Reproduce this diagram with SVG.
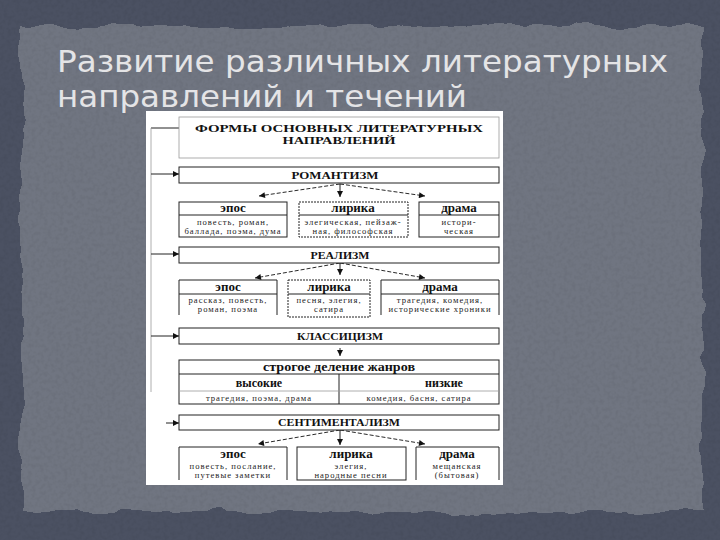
<svg xmlns="http://www.w3.org/2000/svg" width="720" height="540" viewBox="0 0 720 540">
<defs>
<filter id="torn" x="-5%" y="-5%" width="110%" height="110%">
<feTurbulence type="fractalNoise" baseFrequency="0.03" numOctaves="3" seed="3" result="n"/>
<feDisplacementMap in="SourceGraphic" in2="n" scale="14" xChannelSelector="R" yChannelSelector="G"/>
</filter>
<filter id="grain" x="0" y="0" width="100%" height="100%">
<feTurbulence type="fractalNoise" baseFrequency="0.25" numOctaves="3" seed="7" result="t"/>
<feColorMatrix in="t" type="matrix" values="0 0 0 0 0  0 0 0 0 0  0 0 0 0 0  0 0 0 -1.0 0.6"/>
</filter>
<marker id="ah" viewBox="0 0 10 10" refX="10" refY="5" markerWidth="7" markerHeight="6" orient="auto" markerUnits="userSpaceOnUse">
<path d="M0,0 L10,5 L0,10 z" fill="#111"/>
</marker>
<style>
.hd{font-family:"Liberation Serif",serif;font-weight:bold;font-size:13px;fill:#111;text-anchor:middle}
.cap{font-size:11px}
.ttl{font-size:10.5px}
.sub{font-size:12px}
.tt{font-family:"Liberation Serif",serif;font-size:8.6px;letter-spacing:1px;fill:#222;text-anchor:middle}
.bx{fill:#fff;stroke:#222;stroke-width:1}
.fb{fill:none;stroke:#999;stroke-width:0.8}
.dl{fill:none;stroke:#111;stroke-width:0.9;stroke-dasharray:4 2}
.sl{fill:none;stroke:#222;stroke-width:1}
.title{font-family:"DejaVu Sans","Open Sans",sans-serif;font-size:31px;fill:#e4e4e6}
</style>
</defs>
<rect x="0" y="0" width="720" height="540" fill="#4b5162"/>
<rect x="22" y="26" width="680" height="486" fill="#6f7481" filter="url(#torn)"/>
<rect x="0" y="0" width="720" height="540" fill="#000" opacity="0.1" filter="url(#grain)"/>
<text class="title" x="57" y="72" textLength="611" lengthAdjust="spacingAndGlyphs">Развитие различных литературных</text>
<text class="title" x="57" y="107" textLength="410" lengthAdjust="spacingAndGlyphs">направлений и течений</text>
<rect x="146" y="111" width="357" height="374" fill="#fff"/>
<g id="connectors">
<path class="sl" d="M151,128 H179"/>
<path class="fb" d="M151,128 V392"/>
<path class="sl" d="M151,174 H179" marker-end="url(#ah)"/>
<path class="sl" d="M151,254 H179" marker-end="url(#ah)"/>
<path class="sl" d="M151,336 H179" marker-end="url(#ah)"/>
<path class="sl" d="M166,423 H179" marker-end="url(#ah)"/>
<path class="dl" d="M340,184 L259,196" marker-end="url(#ah)"/>
<path class="sl" d="M340,184 V197" marker-end="url(#ah)"/>
<path class="dl" d="M340,184 L425,196" marker-end="url(#ah)"/>
<path class="dl" d="M340,263 L255,278" marker-end="url(#ah)"/>
<path class="sl" d="M340,263 V275" marker-end="url(#ah)"/>
<path class="dl" d="M340,263 L425,278" marker-end="url(#ah)"/>
<path class="sl" d="M340,348 V356" marker-end="url(#ah)"/>
<path class="dl" d="M340,430 L258,444" marker-end="url(#ah)"/>
<path class="sl" d="M340,430 V445" marker-end="url(#ah)"/>
<path class="dl" d="M340,430 L425,444" marker-end="url(#ah)"/>
</g>
<g id="forms">
<rect class="fb" x="179" y="117" width="320" height="41"/>
<text class="hd ttl" x="339" y="132" textLength="288" lengthAdjust="spacingAndGlyphs">ФОРМЫ ОСНОВНЫХ ЛИТЕРАТУРНЫХ</text>
<text class="hd ttl" x="339" y="144" textLength="113" lengthAdjust="spacingAndGlyphs">НАПРАВЛЕНИЙ</text>
</g>
<g id="romantism">
<rect class="bx" x="179" y="167" width="320" height="16"/>
<text class="hd cap" x="335" y="179" textLength="87" lengthAdjust="spacingAndGlyphs">РОМАНТИЗМ</text>
</g>
<g id="rom-epos">
<rect class="bx" x="179" y="202" width="108" height="35"/>
<line class="sl" x1="179" y1="215" x2="287" y2="215"/>
<text class="hd" x="233" y="212">эпос</text>
<text class="tt" x="233" y="225">повесть, роман,</text>
<text class="tt" x="233" y="234">баллада, поэма, дума</text>
</g>
<g id="rom-lyric">
<rect class="bx" x="299" y="202" width="109" height="35" stroke-dasharray="2 1"/>
<line class="sl" x1="299" y1="215" x2="408" y2="215"/>
<text class="hd" x="353" y="212">лирика</text>
<text class="tt" x="353" y="225">элегическая, пейзаж-</text>
<text class="tt" x="353" y="234">ная, философская</text>
</g>
<g id="rom-drama">
<rect class="bx" x="419" y="202" width="80" height="35"/>
<line class="sl" x1="419" y1="215" x2="499" y2="215"/>
<text class="hd" x="459" y="212">драма</text>
<text class="tt" x="459" y="225">истори-</text>
<text class="tt" x="459" y="234">ческая</text>
</g>
<g id="realism">
<rect class="bx" x="179" y="247" width="320" height="16"/>
<text class="hd cap" x="340" y="259" textLength="59" lengthAdjust="spacingAndGlyphs">РЕАЛИЗМ</text>
</g>
<g id="real-epos">
<path class="sl" d="M179,315 V280 H277 V315"/>
<line class="sl" x1="179" y1="294" x2="277" y2="294"/>
<text class="hd" x="228" y="291">эпос</text>
<text class="tt" x="228" y="303">рассказ, повесть,</text>
<text class="tt" x="228" y="312">роман, поэма</text>
</g>
<g id="real-lyric">
<rect class="bx" x="288" y="280" width="82" height="37" stroke-dasharray="2 1"/>
<line class="sl" x1="288" y1="294" x2="370" y2="294"/>
<text class="hd" x="329" y="291">лирика</text>
<text class="tt" x="329" y="303">песня, элегия,</text>
<text class="tt" x="329" y="312">сатира</text>
</g>
<g id="real-drama">
<path class="sl" d="M381,315 V280 H499 V315"/>
<line class="sl" x1="381" y1="294" x2="499" y2="294"/>
<text class="hd" x="440" y="291">драма</text>
<text class="tt" x="440" y="303">трагедия, комедия,</text>
<text class="tt" x="440" y="312">исторические хроники</text>
</g>
<g id="classicism">
<rect class="bx" x="179" y="328" width="320" height="16"/>
<text class="hd cap" x="340" y="340" textLength="86" lengthAdjust="spacingAndGlyphs">КЛАССИЦИЗМ</text>
</g>
<g id="genres">
<rect class="bx" x="179" y="360" width="320" height="44"/>
<line class="sl" x1="179" y1="374" x2="499" y2="374"/>
<line class="sl" x1="339" y1="374" x2="339" y2="404"/>
<line class="fb" x1="179" y1="391" x2="499" y2="391"/>
<text class="hd sub" x="339" y="371" textLength="152" lengthAdjust="spacingAndGlyphs">строгое деление жанров</text>
<text class="hd sub" x="259" y="387">высокие</text>
<text class="hd sub" x="444" y="387">низкие</text>
<text class="tt" x="259" y="401">трагедия, поэма, драма</text>
<text class="tt" x="419" y="401">комедия, басня, сатира</text>
</g>
<g id="sentimentalism">
<rect class="bx" x="179" y="415" width="320" height="15"/>
<text class="hd cap" x="339" y="426" textLength="122" lengthAdjust="spacingAndGlyphs">СЕНТИМЕНТАЛИЗМ</text>
</g>
<g id="sent-epos">
<path class="sl" d="M179,480 V447 H287 V480"/>
<text class="hd" x="233" y="458">эпос</text>
<text class="tt" x="233" y="469">повесть, послание,</text>
<text class="tt" x="233" y="478">путевые заметки</text>
</g>
<g id="sent-lyric">
<rect class="bx" x="297" y="447" width="109" height="33"/>
<text class="hd" x="351" y="458">лирика</text>
<text class="tt" x="351" y="469">элегия,</text>
<text class="tt" x="351" y="478">народные песни</text>
</g>
<g id="sent-drama">
<path class="sl" d="M416,480 V447 H499 V480"/>
<text class="hd" x="457" y="458">драма</text>
<text class="tt" x="457" y="469">мещанская</text>
<text class="tt" x="457" y="478">(бытовая)</text>
</g>
</svg>
